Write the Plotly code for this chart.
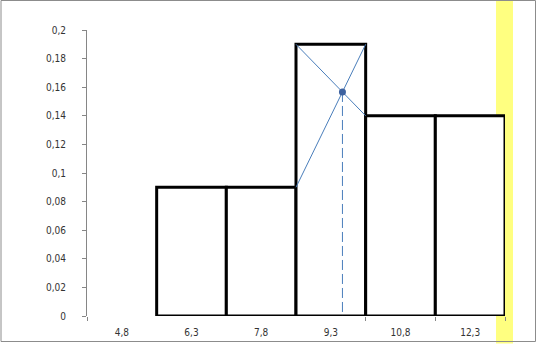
import plotly.graph_objects as go

categories = ["4,8", "6,3", "7,8", "9,3", "10,8", "12,3"]
bar_positions = [1, 2, 3, 4, 5]
bar_heights = [0.09, 0.09, 0.19, 0.14, 0.14]
y_ticks = [0, 0.02, 0.04, 0.06, 0.08, 0.1, 0.12, 0.14, 0.16, 0.18, 0.2]

# modal interval construction from the data
m = bar_heights.index(max(bar_heights))
xl = bar_positions[m] - 0.5
xr = bar_positions[m] + 0.5
h_prev, h_mode, h_next = bar_heights[m - 1], bar_heights[m], bar_heights[m + 1]
t = (h_mode - h_prev) / ((h_mode - h_prev) + (h_mode - h_next))
x_int = xl + t
y_int = h_prev + (h_mode - h_prev) * t

BLUE = "#4A7EBB"
fig = go.Figure()
fig.add_trace(go.Bar(
    x=bar_positions, y=bar_heights, width=1,
    marker=dict(color="white", line=dict(color="black", width=3)),
    cliponaxis=False, hoverinfo="skip",
))
fig.add_trace(go.Scatter(x=[xl, xr], y=[h_prev, h_mode], mode="lines",
                         line=dict(color=BLUE, width=1), hoverinfo="skip"))
fig.add_trace(go.Scatter(x=[xl, xr], y=[h_mode, h_next], mode="lines",
                         line=dict(color=BLUE, width=1), hoverinfo="skip"))
fig.add_trace(go.Scatter(x=[x_int, x_int], y=[y_int, 0], mode="lines",
                         line=dict(color=BLUE, width=1, dash="10px,4px"), hoverinfo="skip"))
fig.add_trace(go.Scatter(x=[x_int], y=[y_int], mode="markers",
                         marker=dict(color="#3D62A0", size=7), hoverinfo="skip"))

L, R, T, B = 87, 32, 30, 28
pw, ph = 537 - L - R, 344 - T - B

def px(x):
    return (x - L) / pw

def py(y):
    return (344 - B - y) / ph

shapes = [
    dict(type="rect", xref="paper", yref="paper", x0=px(496), x1=px(513),
         y0=py(343.5), y1=py(0), fillcolor="#FFFF80", line=dict(width=0), layer="below"),
    dict(type="rect", xref="paper", yref="paper", x0=px(1), x1=px(535.5),
         y0=py(341.5), y1=py(0.5), line=dict(color="#8C8C8C", width=1), layer="above"),
]

fig.update_layout(
    width=537, height=344,
    margin=dict(l=L, r=R, t=T, b=B, autoexpand=False),
    paper_bgcolor="white", plot_bgcolor="rgba(0,0,0,0)",
    showlegend=False, separators=", ",
    font=dict(family="DejaVu Sans Condensed, DejaVu Sans", size=10, color="#333333"),
    shapes=shapes,
    xaxis=dict(range=[-0.5, 5.5], tickmode="array", tickvals=list(range(len(categories))),
               ticktext=categories, showgrid=False, zeroline=False, showline=False,
               ticks="", fixedrange=True, ticklabelstandoff=9, automargin=False,
               minor=dict(tickmode="array", tickvals=[-0.5, 3.5, 4.5, 5.5], ticks="outside",
                          ticklen=4, tickcolor="#868686", showgrid=False)),
    yaxis=dict(range=[0, 0.2], tickmode="array", tickvals=y_ticks, showgrid=False,
               zeroline=False, showline=True, linecolor="#868686", linewidth=1,
               ticks="outside", ticklen=4, tickcolor="#868686", ticklabelstandoff=14,
               automargin=False),
)
fig.write_html("out.html")
